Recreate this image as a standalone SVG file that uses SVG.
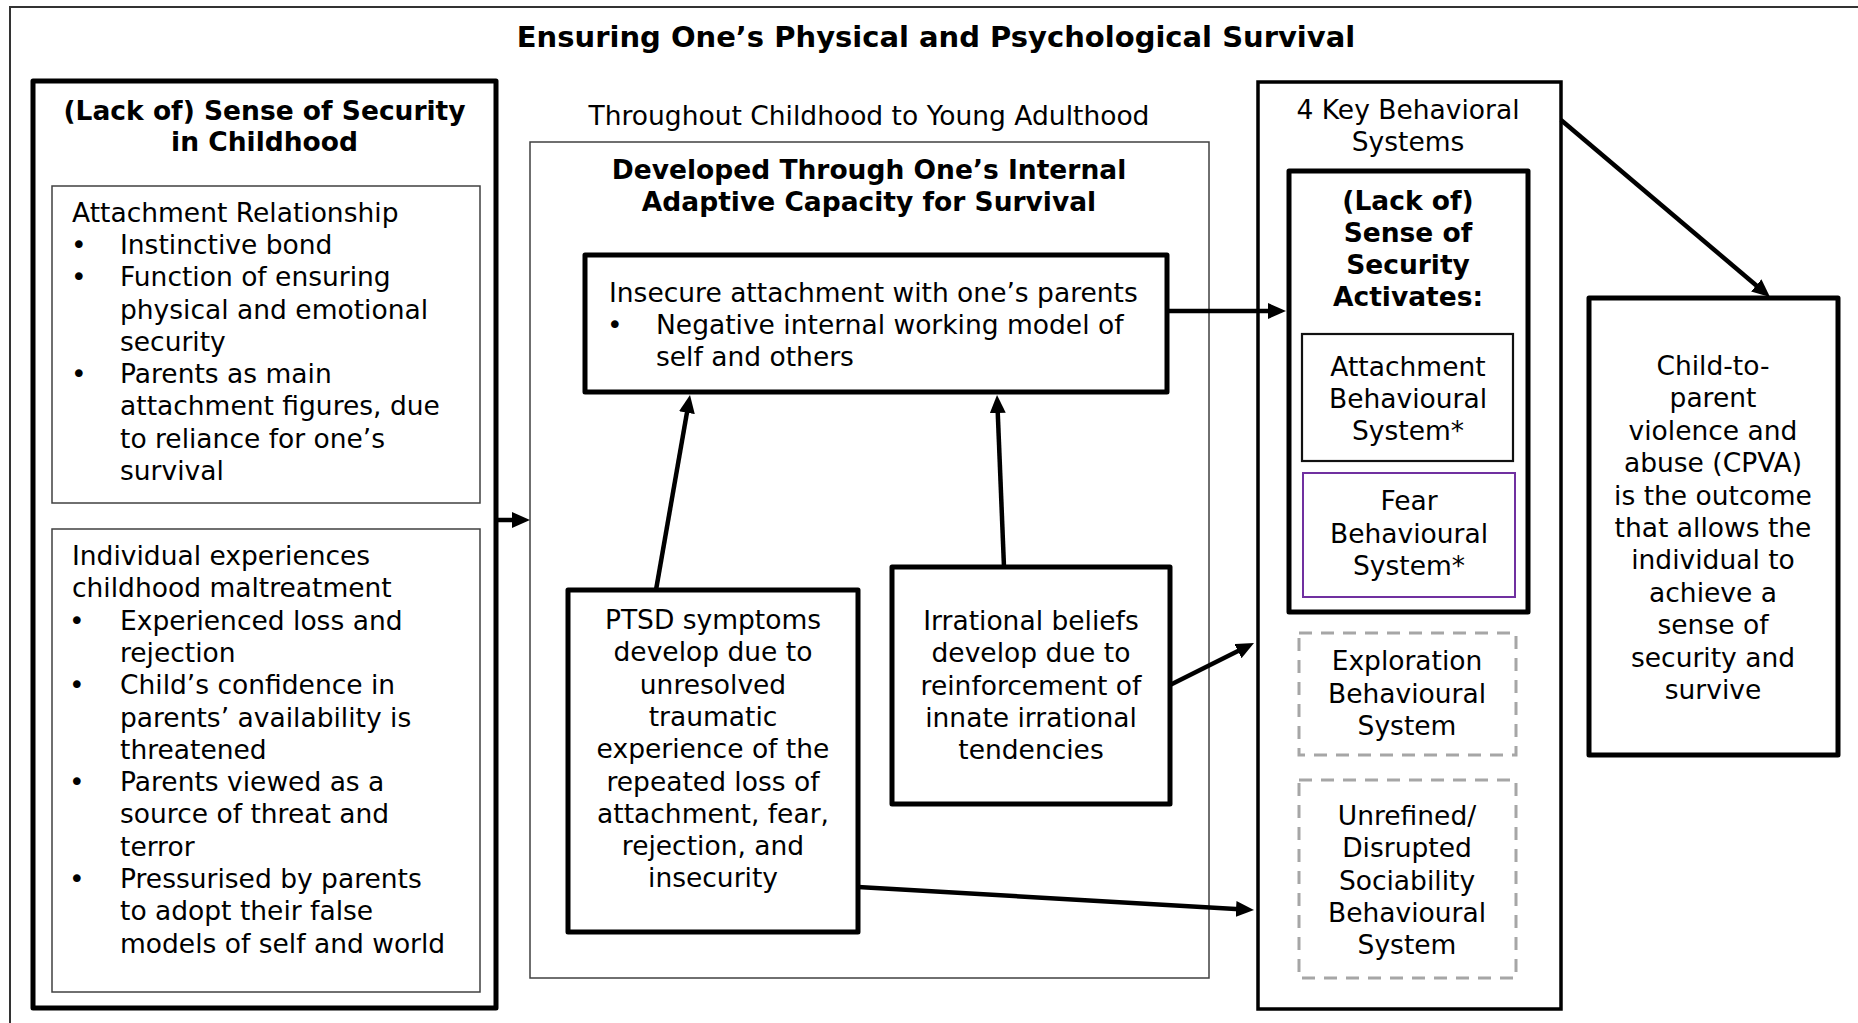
<svg xmlns="http://www.w3.org/2000/svg" width="1858" height="1023" viewBox="0 0 1858 1023">
  <defs>
    <style>
      text { font-family: "DejaVu Sans", Verdana, "Liberation Sans", sans-serif; font-size: 26.5px; fill: #000; }
      .b { font-weight: bold; }
      .c { text-anchor: middle; }
      .title { font-size: 29px; font-weight: bold; }
      .thick { fill: #fff; stroke: #000; stroke-width: 5; stroke-linejoin: round; }
      .mid { fill: #fff; stroke: #000; stroke-width: 3.5; }
      .thin { fill: #fff; stroke: #404040; stroke-width: 1.5; }
      .sys { fill: #fff; stroke: #111; stroke-width: 2.2; }
      .fear { fill: #fff; stroke: #7030A0; stroke-width: 2; }
      .dash { fill: #fff; stroke: #A6A6A6; stroke-width: 3; stroke-dasharray: 13 9; }
      .conn { fill: none; stroke: #000; stroke-width: 4.5; marker-end: url(#arrow); }
    </style>
    <marker id="arrow" markerUnits="userSpaceOnUse" markerWidth="18" markerHeight="16" refX="4" refY="8" orient="auto">
      <path d="M0,0 L18,8 L0,16 Z" fill="#000"/>
    </marker>
  </defs>

  <rect width="1858" height="1023" fill="#fff"/>

  <!-- open frame: top and left rules only -->
  <path d="M10,1023 V7 H1858" fill="none" stroke="#333" stroke-width="2"/>

  <g id="title">
    <text class="title c" x="936" y="47">Ensuring One’s Physical and Psychological Survival</text>
  </g>

  <!-- left column -->
  <g id="childhood-security">
    <rect class="thick" x="33" y="81" width="463" height="927"/>
    <text class="b c" x="264.5" y="120">(Lack of) Sense of Security</text>
    <text class="b c" x="264.5" y="151">in Childhood</text>
  </g>

  <g id="attachment-relationship">
    <rect class="thin" x="52" y="186" width="428" height="317"/>
    <text x="72" y="222">Attachment Relationship</text>
    <text x="71" y="254">•</text>
    <text x="120" y="254">Instinctive bond</text>
    <text x="71" y="286">•</text>
    <text x="120" y="286">Function of ensuring</text>
    <text x="120" y="318.5">physical and emotional</text>
    <text x="120" y="351">security</text>
    <text x="71" y="383">•</text>
    <text x="120" y="383">Parents as main</text>
    <text x="120" y="415">attachment figures, due</text>
    <text x="120" y="447.5">to reliance for one’s</text>
    <text x="120" y="480">survival</text>
  </g>

  <g id="maltreatment">
    <rect class="thin" x="52" y="529" width="428" height="463"/>
    <text x="72" y="565">Individual experiences</text>
    <text x="72" y="597.3">childhood maltreatment</text>
    <text x="69" y="629.6">•</text>
    <text x="120" y="629.6">Experienced loss and</text>
    <text x="120" y="661.9">rejection</text>
    <text x="69" y="694.2">•</text>
    <text x="120" y="694.2">Child’s confidence in</text>
    <text x="120" y="726.5">parents’ availability is</text>
    <text x="120" y="758.8">threatened</text>
    <text x="69" y="791.1">•</text>
    <text x="120" y="791.1">Parents viewed as a</text>
    <text x="120" y="823.4">source of threat and</text>
    <text x="120" y="855.7">terror</text>
    <text x="69" y="888">•</text>
    <text x="120" y="888">Pressurised by parents</text>
    <text x="120" y="920.3">to adopt their false</text>
    <text x="120" y="952.6">models of self and world</text>
  </g>

  <!-- middle column -->
  <g id="adaptive-capacity">
    <text class="c" x="869" y="125">Throughout Childhood to Young Adulthood</text>
    <rect class="thin" x="530" y="142" width="679" height="836"/>
    <text class="b c" x="869" y="179">Developed Through One’s Internal</text>
    <text class="b c" x="869" y="211">Adaptive Capacity for Survival</text>
  </g>

  <g id="insecure-attachment">
    <rect class="thick" x="585" y="255" width="582" height="137"/>
    <text x="609" y="302">Insecure attachment with one’s parents</text>
    <text x="607" y="334">•</text>
    <text x="656" y="334">Negative internal working model of</text>
    <text x="656" y="366">self and others</text>
  </g>

  <g id="ptsd">
    <rect class="thick" x="568" y="590" width="290" height="342"/>
    <text class="c" x="713" y="629">PTSD symptoms</text>
    <text class="c" x="713" y="661.3">develop due to</text>
    <text class="c" x="713" y="693.6">unresolved</text>
    <text class="c" x="713" y="725.9">traumatic</text>
    <text class="c" x="713" y="758.2">experience of the</text>
    <text class="c" x="713" y="790.5">repeated loss of</text>
    <text class="c" x="713" y="822.8">attachment, fear,</text>
    <text class="c" x="713" y="855.1">rejection, and</text>
    <text class="c" x="713" y="887.4">insecurity</text>
  </g>

  <g id="irrational-beliefs">
    <rect class="thick" x="892" y="567" width="278" height="237"/>
    <text class="c" x="1031" y="630">Irrational beliefs</text>
    <text class="c" x="1031" y="662.3">develop due to</text>
    <text class="c" x="1031" y="694.6">reinforcement of</text>
    <text class="c" x="1031" y="726.9">innate irrational</text>
    <text class="c" x="1031" y="759.2">tendencies</text>
  </g>

  <!-- right column -->
  <g id="behavioral-systems">
    <rect class="mid" x="1258" y="82" width="303" height="927"/>
    <text class="c" x="1408" y="119">4 Key Behavioral</text>
    <text class="c" x="1408" y="151">Systems</text>
  </g>

  <g id="security-activates">
    <rect class="thick" x="1289" y="171" width="239" height="441"/>
    <text class="b c" x="1408" y="210">(Lack of)</text>
    <text class="b c" x="1408" y="242">Sense of</text>
    <text class="b c" x="1408" y="274">Security</text>
    <text class="b c" x="1408" y="306">Activates:</text>
  </g>

  <g id="attachment-system">
    <rect class="sys" x="1302" y="334" width="211" height="127"/>
    <text class="c" x="1408" y="376">Attachment</text>
    <text class="c" x="1408" y="408">Behavioural</text>
    <text class="c" x="1408" y="440">System*</text>
  </g>

  <g id="fear-system">
    <rect class="fear" x="1303" y="473" width="212" height="124"/>
    <text class="c" x="1409" y="510">Fear</text>
    <text class="c" x="1409" y="543">Behavioural</text>
    <text class="c" x="1409" y="575">System*</text>
  </g>

  <g id="exploration-system">
    <rect class="dash" x="1299" y="633" width="217" height="122"/>
    <text class="c" x="1407" y="670">Exploration</text>
    <text class="c" x="1407" y="703">Behavioural</text>
    <text class="c" x="1407" y="735">System</text>
  </g>

  <g id="sociability-system">
    <rect class="dash" x="1299" y="780" width="217" height="198"/>
    <text class="c" x="1407" y="825">Unrefined/</text>
    <text class="c" x="1407" y="857">Disrupted</text>
    <text class="c" x="1407" y="890">Sociability</text>
    <text class="c" x="1407" y="922">Behavioural</text>
    <text class="c" x="1407" y="954">System</text>
  </g>

  <g id="cpva">
    <rect class="thick" x="1589" y="298" width="249" height="457"/>
    <text class="c" x="1713" y="375">Child-to-</text>
    <text class="c" x="1713" y="407.4">parent</text>
    <text class="c" x="1713" y="439.8">violence and</text>
    <text class="c" x="1713" y="472.2">abuse (CPVA)</text>
    <text class="c" x="1713" y="504.6">is the outcome</text>
    <text class="c" x="1713" y="537">that allows the</text>
    <text class="c" x="1713" y="569.4">individual to</text>
    <text class="c" x="1713" y="601.8">achieve a</text>
    <text class="c" x="1713" y="634.2">sense of</text>
    <text class="c" x="1713" y="666.6">security and</text>
    <text class="c" x="1713" y="699">survive</text>
  </g>

  <g id="connectors">
    <line class="conn" x1="498" y1="520" x2="516" y2="520"/>
    <line class="conn" x1="656" y1="590" x2="687.6" y2="408.8"/>
    <line class="conn" x1="1004" y1="567" x2="997.6" y2="409"/>
    <line class="conn" x1="1167" y1="311" x2="1272" y2="311"/>
    <line class="conn" x1="1170" y1="685" x2="1241.5" y2="649.3"/>
    <line class="conn" x1="858" y1="887" x2="1240" y2="909.2"/>
    <line class="conn" x1="1561" y1="120" x2="1759.3" y2="288"/>
  </g>
</svg>
